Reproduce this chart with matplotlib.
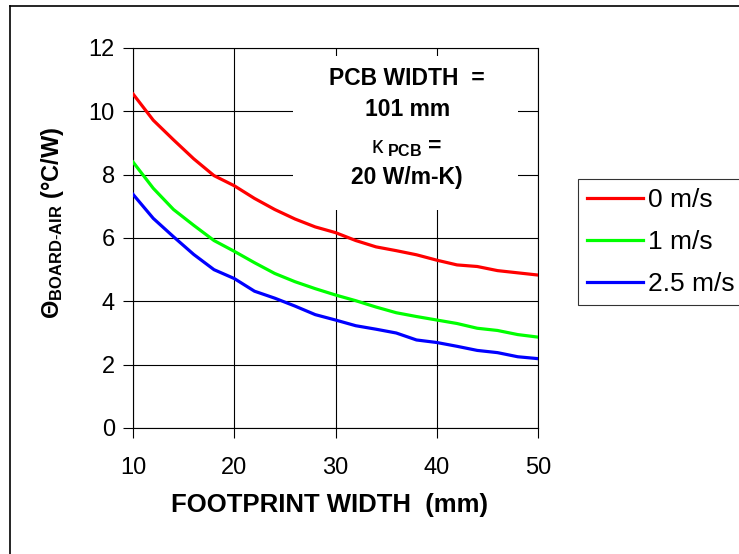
import numpy as np
import matplotlib
matplotlib.use('Agg')
import matplotlib.pyplot as plt
from matplotlib.lines import Line2D
from matplotlib.patches import Rectangle

plt.rcParams['font.family'] = ['Liberation Sans', 'DejaVu Sans']
plt.rcParams['mathtext.fontset'] = 'custom'
plt.rcParams['mathtext.rm'] = 'Liberation Sans'
plt.rcParams['mathtext.bf'] = 'Liberation Sans:bold'
plt.rcParams['mathtext.it'] = 'Liberation Sans:italic'

# footprint width (mm)
footprint = [10, 12, 14, 16, 18, 20, 22, 24, 26, 28, 30,
             32, 34, 36, 38, 40, 42, 44, 46, 48, 50]

# board-to-air thermal resistance (C/W) per air velocity
theta_0ms = [10.55, 9.72, 9.10, 8.50, 7.97, 7.65, 7.25, 6.90, 6.60, 6.35, 6.17,
             5.92, 5.72, 5.60, 5.47, 5.30, 5.15, 5.10, 4.97, 4.90, 4.83]
theta_1ms = [8.40, 7.57, 6.90, 6.40, 5.92, 5.58, 5.22, 4.88, 4.62, 4.40, 4.20,
             4.02, 3.82, 3.64, 3.52, 3.41, 3.30, 3.15, 3.08, 2.95, 2.87]
theta_25ms = [7.38, 6.62, 6.04, 5.48, 5.00, 4.72, 4.32, 4.10, 3.85, 3.58, 3.41,
              3.23, 3.12, 3.00, 2.78, 2.70, 2.58, 2.45, 2.38, 2.25, 2.19]

series_labels = ['0 m/s', '1 m/s', '2.5 m/s']
series_colors = ['#FF0000', '#00FF00', '#0000FF']

fig = plt.figure(figsize=(7.39, 5.54), dpi=100)
ax = fig.add_axes([133/739, 1 - 428/554, 405/739, 380/554])

for vals, lab, col in zip([theta_0ms, theta_1ms, theta_25ms], series_labels, series_colors):
    ax.plot(footprint, vals, color=col, linewidth=2.3, label=lab, zorder=3)

ax.set_xlim(10, 50)
ax.set_ylim(0, 12)
ax.set_xticks(np.arange(10, 51, 10))
ax.set_yticks(np.arange(0, 13, 2))
ax.grid(True, color='black', linewidth=0.8, zorder=0)
ax.set_axisbelow(True)
ax.tick_params(direction='out', length=7, width=0.8, labelsize=17, colors='black')
ax.tick_params(axis='x', pad=14)
ax.tick_params(axis='y', pad=6)
for sp in ax.spines.values():
    sp.set_linewidth(0.8)
    sp.set_color('black')

# white box hiding the grid behind the annotation
ax.add_patch(Rectangle((0.395, 0.573), 0.556, 0.405, transform=ax.transAxes,
                       facecolor='white', edgecolor='none', zorder=1))
cx = 0.677
ax.text(cx, 0.921, 'PCB WIDTH  =', transform=ax.transAxes, ha='center', va='center',
        fontsize=16.5, fontweight='bold', zorder=4)
ax.text(cx, 0.837, '101 mm', transform=ax.transAxes, ha='center', va='center',
        fontsize=16.5, fontweight='bold', zorder=4)
ax.text(cx, 0.737, r'$\mathrm{κ}_{\mathbf{\ PCB}}$ =', transform=ax.transAxes,
        ha='center', va='center', fontsize=16.5, fontweight='bold', zorder=4)
ax.text(cx, 0.658, '20 W/m-K)', transform=ax.transAxes, ha='center', va='center',
        fontsize=16.5, fontweight='bold', zorder=4)

ax.set_xlabel('FOOTPRINT WIDTH  (mm)', fontsize=18.5, fontweight='bold')
ax.xaxis.set_label_coords(0.485, -0.17)
ax.set_ylabel(r'$\mathbf{\Theta}_{\mathbf{BOARD\text{-}AIR}}$ (°C/W)', fontsize=17,
              fontweight='bold')
ax.yaxis.set_label_coords(-0.165, 0.54)

leg = fig.legend(loc='upper left', bbox_to_anchor=(578/739, 1 - 179/554),
                 fontsize=19, frameon=True, fancybox=False, edgecolor='black',
                 handlelength=2.1, handletextpad=0.2, labelspacing=0.68,
                 borderpad=0.35, borderaxespad=0)
leg.get_frame().set_linewidth(0.8)

# partial outer border (left and top)
fig.add_artist(Line2D([9.5/739, 9.5/739], [0, 1 - 6/554], color='black', linewidth=1.2))
fig.add_artist(Line2D([9.5/739, 1], [1 - 6/554, 1 - 6/554], color='black', linewidth=1.2))

fig.savefig('out.png', dpi=100)
